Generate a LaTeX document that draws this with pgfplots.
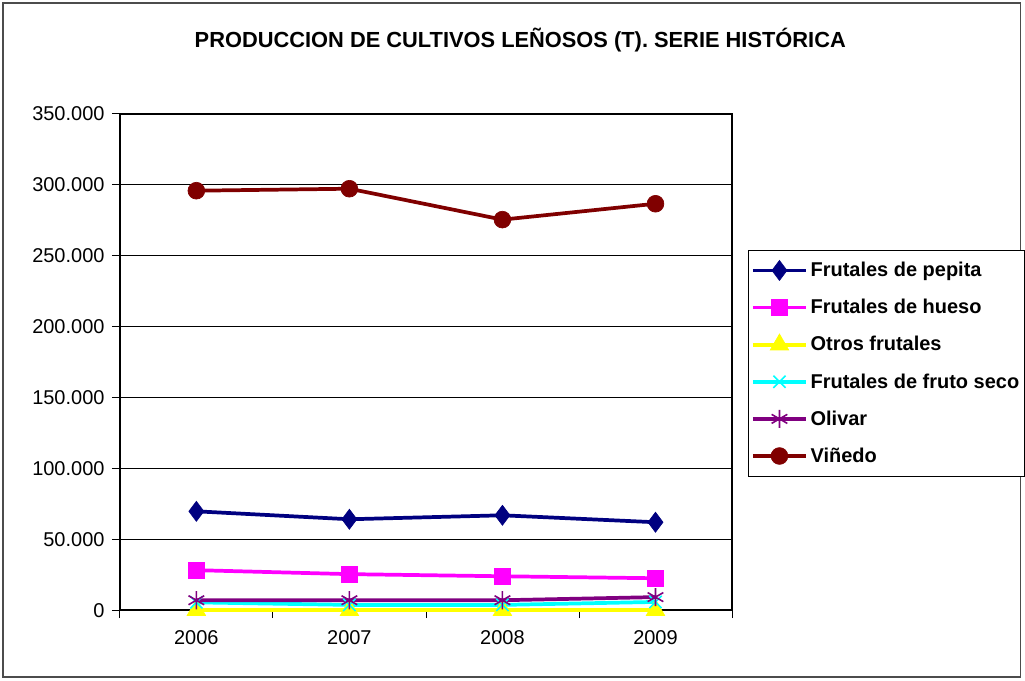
\documentclass[border=0pt]{standalone}
\usepackage{pgfplots}
\pgfplotsset{compat=1.18}
\usepackage{fontspec}
\setmainfont{Liberation Sans}
\definecolor{cPep}{RGB}{0,0,128}
\definecolor{cHue}{RGB}{255,0,255}
\definecolor{cOtr}{RGB}{255,255,0}
\definecolor{cSec}{RGB}{0,255,255}
\definecolor{cOli}{RGB}{128,0,128}
\definecolor{cVin}{RGB}{128,0,0}
\begin{document}
\begin{tikzpicture}
% page frame, 1px = 0.75pt
\fill[white] (0pt,0pt) rectangle (768.75pt,510.75pt);
\draw[black!70,line width=0.9pt] (2.25pt,2.25pt) rectangle (766.5pt,508.5pt);
\node[font=\fontsize{16.4}{18}\selectfont\bfseries] at (390.75pt,480.75pt) {PRODUCCION DE CULTIVOS LEÑOSOS (T). SERIE HISTÓRICA};
\begin{axis}[at={(90pt,52.5pt)},anchor=south west,scale only axis,
  width=459.75pt,height=372.75pt,
  xmin=-0.5,xmax=3.5,ymin=0,ymax=350000,clip=false,
  xtick={0,1,2,3},xticklabels={2006,2007,2008,2009},major x tick style={draw=none},
  minor xtick={-0.5,0.5,1.5,2.5,3.5},minor tick length=6pt,
  ytick={0,50000,...,350000},major tick length=6pt,
  tick align=outside,tick pos=left,
  ymajorgrids,grid style={black,line width=0.6pt},
  axis line style={black,line width=1.5pt},
  tick style={black,line width=0.6pt},
  scaled y ticks=false,
  /pgf/number format/.cd,fixed,1000 sep={.},assume math mode=true,/pgfplots/.cd,
  tick label style={font=\fontsize{15}{17}\selectfont},
  yticklabel style={xshift=-2pt},
  xticklabel style={yshift=-6pt},
  legend style={at={(1.026,0.726)},anchor=north west,draw=black,line width=0.6pt,
    font=\fontsize{15}{17}\selectfont\bfseries,row sep=11.5pt,
    inner xsep=2pt,inner ysep=7pt,cells={anchor=west}},
  legend image code/.code={\draw[line width=2.8pt,mark repeat=2,mark phase=2] plot coordinates {(0pt,0pt)(20pt,0pt)(40pt,0pt)};},
  every axis plot/.append style={line width=2.8pt},
  ]
\addplot[cPep,mark=diamond*,mark size=7.5pt,mark options={line width=0.5pt}] coordinates {(0,69700)(1,64100)(2,66900)(3,62000)};
\addlegendentry{Frutales de pepita}
\addplot[cHue,mark=square*,mark size=6.2pt,mark options={line width=0.5pt}] coordinates {(0,28200)(1,25400)(2,23900)(3,22500)};
\addlegendentry{Frutales de hueso}
\addplot[cOtr,mark=triangle*,mark size=8pt,mark options={line width=0.5pt}] coordinates {(0,0)(1,0)(2,0)(3,0)};
\addlegendentry{Otros frutales}
\addplot[cSec,mark=x,mark size=6.5pt,mark options={line width=1.2pt}] coordinates {(0,5500)(1,3700)(2,3700)(3,5800)};
\addlegendentry{Frutales de fruto seco}
\addplot[cOli,mark=asterisk,mark size=6.8pt,mark options={line width=1.2pt}] coordinates {(0,7000)(1,7000)(2,7000)(3,9200)};
\addlegendentry{Olivar}
\addplot[cVin,mark=*,mark size=6.3pt,mark options={line width=0.5pt}] coordinates {(0,295800)(1,297200)(2,275400)(3,286600)};
\addlegendentry{Viñedo}
\end{axis}
\end{tikzpicture}
\end{document}
